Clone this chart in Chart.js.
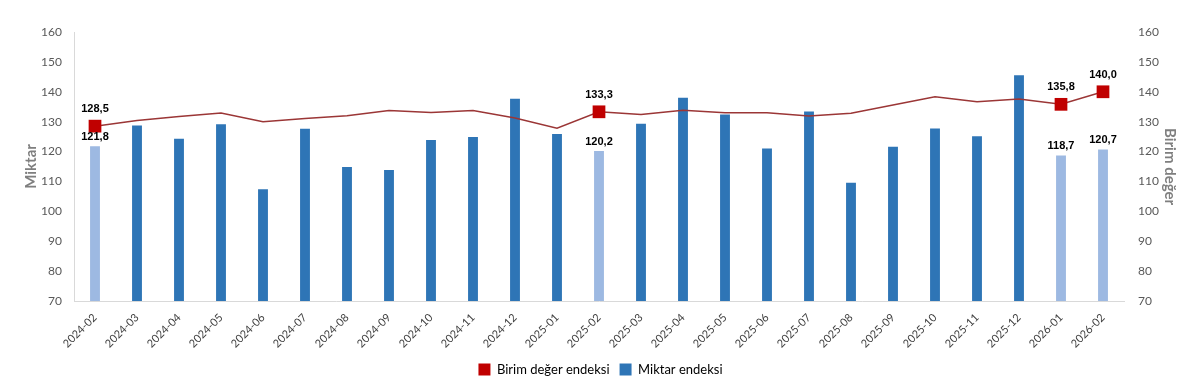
<!DOCTYPE html>
<html lang="tr">
<head>
<meta charset="utf-8">
<script src="https://cdn.jsdelivr.net/npm/chart.js@4.4.1/dist/chart.umd.min.js"></script>
<style>
  body { margin: 0; background: #fff; }
</style>
</head>
<body>
<canvas id="myChart" width="1200" height="386"></canvas>
<script>
// Datos del gráfico
const categories = ['2024-02', '2024-03', '2024-04', '2024-05', '2024-06', '2024-07', '2024-08', '2024-09',
  '2024-10', '2024-11', '2024-12', '2025-01', '2025-02', '2025-03', '2025-04', '2025-05', '2025-06',
  '2025-07', '2025-08', '2025-09', '2025-10', '2025-11', '2025-12', '2026-01', '2026-02'];
const miktarEndeksi = [121.8, 128.7, 124.3, 129.1, 107.4, 127.6, 114.8, 113.8, 123.9, 124.9, 137.7, 125.9,
  120.2, 129.3, 138.0, 132.4, 121.0, 133.4, 109.6, 121.6, 127.7, 125.1, 145.5, 118.7, 120.7];
const birimDegerEndeksi = [128.5, 130.4, 131.7, 132.9, 130.0, 131.1, 132.0, 133.7, 133.1, 133.7, 131.2, 127.8,
  133.3, 132.4, 133.8, 133.0, 133.0, 131.9, 132.8, 135.6, 138.3, 136.7, 137.6, 135.8, 140.0];
const highlighted = [0, 12, 23, 24]; // meses con etiqueta
const yTicks = [70, 80, 90, 100, 110, 120, 130, 140, 150, 160];

const isHi = i => highlighted.includes(i);
const fmt = v => v.toFixed(1).replace('.', ',');

// Etiquetas de valores
const valueLabels = {
  id: 'valueLabels',
  afterDatasetsDraw(chart) {
    const ctx = chart.ctx;
    ctx.save();
    ctx.font = 'bold 11px "Liberation Sans", Arial, sans-serif';
    ctx.fillStyle = '#000';
    ctx.textAlign = 'center';
    ctx.textBaseline = 'middle';
    const lineMeta = chart.getDatasetMeta(0);
    const barMeta = chart.getDatasetMeta(1);
    highlighted.forEach(i => {
      const p = lineMeta.data[i];
      ctx.fillText(fmt(birimDegerEndeksi[i]), p.x, p.y - 17);
      const b = barMeta.data[i];
      ctx.fillText(fmt(miktarEndeksi[i]), b.x, b.y - 9);
    });
    ctx.restore();
  }
};

const fam = 'Lato, "Open Sans", sans-serif';
const yScale = (pos, title) => ({
  type: 'linear',
  position: pos,
  min: 70,
  max: 160,
  afterBuildTicks: s => { s.ticks = yTicks.map(v => ({ value: v })); },
  ticks: { color: '#595959', font: { family: fam, size: 12 }, padding: pos === 'left' ? 12 : 14 },
  grid: { display: false, drawTicks: false, tickLength: 0 },
  border: { display: pos === 'left', color: '#d9d9d9' },
  title: {
    display: true, text: title, color: '#7f7f7f',
    font: { family: fam, size: 15, weight: 'bold' },
    padding: 0
  },
  afterFit: s => { s.width = pos === 'left' ? 52 : 55; }
});

const ctx = document.getElementById('myChart').getContext('2d');
new Chart(ctx, {
  type: 'bar',
  data: {
    labels: categories,
    datasets: [{
      type: 'line',
      label: 'Birim değer endeksi',
      data: birimDegerEndeksi,
      yAxisID: 'y1',
      order: 0,
      borderColor: '#9b3636',
      borderWidth: 1.5,
      tension: 0,
      pointStyle: 'rect',
      pointRadius: categories.map((_, i) => isHi(i) ? 9 : 0),
      pointHoverRadius: categories.map((_, i) => isHi(i) ? 9 : 0),
      pointBackgroundColor: '#c00000',
      pointBorderColor: '#c00000',
      pointBorderWidth: 0
    }, {
      type: 'bar',
      label: 'Miktar endeksi',
      data: miktarEndeksi,
      yAxisID: 'y',
      order: 1,
      backgroundColor: categories.map((_, i) => isHi(i) ? '#9db9e2' : '#2e75b6'),
      barPercentage: 0.5,
      categoryPercentage: 0.47
    }]
  },
  options: {
    responsive: false,
    animation: false,
    layout: { padding: { top: 32, left: 22, right: 21, bottom: 0 } },
    plugins: {
      tooltip: { enabled: false },
      legend: {
        position: 'bottom',
        labels: {
          boxWidth: 12,
          boxHeight: 12,
          color: '#262626',
          font: { family: fam, size: 13 },
          generateLabels: () => [
            { text: 'Birim değer endeksi', fillStyle: '#c00000', strokeStyle: '#c00000', lineWidth: 0, hidden: false, datasetIndex: 0 },
            { text: 'Miktar endeksi', fillStyle: '#2e75b6', strokeStyle: '#2e75b6', lineWidth: 0, hidden: false, datasetIndex: 1 }
          ]
        }
      }
    },
    scales: {
      x: {
        grid: { display: false },
        border: { color: '#d9d9d9' },
        ticks: { color: '#404040', font: { family: fam, size: 11 }, minRotation: 45, maxRotation: 45, autoSkip: false, padding: 2 },
        afterFit: s => { s.height = 52; }
      },
      y: yScale('left', 'Miktar'),
      y1: yScale('right', 'Birim değer')
    }
  },
  plugins: [valueLabels]
});
</script>
</body>
</html>
